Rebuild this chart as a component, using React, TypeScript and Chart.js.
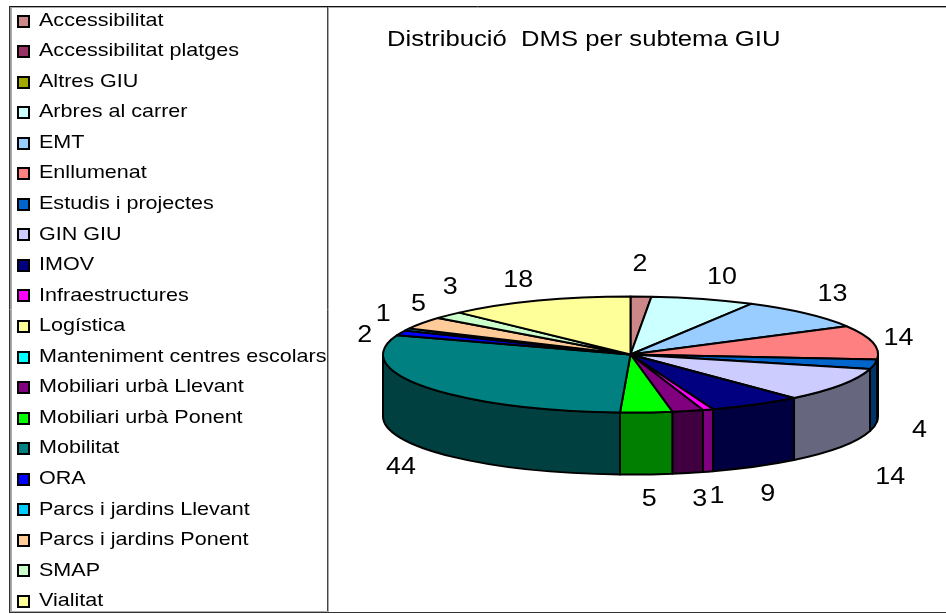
import React, { useEffect, useRef } from "react";
import { Chart, registerables } from "chart.js";

Chart.register(...registerables);

const TITLE = "Distribució  DMS per subtema GIU";
const categories = [
  "Accessibilitat", "Accessibilitat platges", "Altres GIU", "Arbres al carrer", "EMT",
  "Enllumenat", "Estudis i projectes", "GIN GIU", "IMOV", "Infraestructures",
  "Logística", "Manteniment centres escolars", "Mobiliari urbà Llevant", "Mobiliari urbà Ponent", "Mobilitat",
  "ORA", "Parcs i jardins Llevant", "Parcs i jardins Ponent", "SMAP", "Vialitat",
];
const values = [2, 0, 0, 10, 13, 14, 4, 14, 9, 1, 0, 0, 3, 5, 44, 2, 1, 5, 3, 18];
const sliceColors = [
  "#CC8888", "#993366", "#A3A800", "#CCFFFF", "#99CCFF",
  "#FF8080", "#0066CC", "#CCCCFF", "#000080", "#FF00FF",
  "#FFFF99", "#00FFFF", "#800080", "#00FF00", "#008080",
  "#0000FF", "#00CCFF", "#FFCC99", "#CCFFCC", "#FFFF99",
];
// Offset of each value label from the rim point at its slice's mid-angle.
const labelNudges: [number, number][] = [
  [-1, -32.5], [0, 0], [0, 0], [19, -21.5], [27, -19.5],
  [26, -3.5], [45, 66], [49, 92.5], [12, 90], [9, 86.5],
  [0, 0], [0, 0], [12, 88], [3, 86.5], [-24.5, 80.5],
  [-36, 3], [-24, -15], [-4, -19], [2, -28], [-20, -20],
];

const FONT = '"Liberation Sans", Arial, sans-serif';
const RY = 58;
const DEPTH = 62;

function halve(hex: string) {
  const n = parseInt(hex.slice(1), 16);
  const c = (s: number) => Math.floor(((n >> s) & 255) / 2);
  return `rgb(${c(16)},${c(8)},${c(0)})`;
}

// The reference's text is wider than the font's natural proportions.
function stretchedText(
  ctx: CanvasRenderingContext2D,
  text: string,
  x: number,
  y: number,
  sx: number,
) {
  ctx.save();
  ctx.translate(x, y);
  ctx.scale(sx, 1);
  ctx.fillText(text, 0, 0);
  ctx.restore();
}

const pie3d = {
  id: "pie3d",
  beforeDatasetsDraw(chart: any) {
    const ctx: CanvasRenderingContext2D = chart.ctx;
    const arcs = chart.getDatasetMeta(0).data;
    ctx.save();
    ctx.lineWidth = 2;
    ctx.strokeStyle = "#000";
    ctx.lineJoin = "round";
    // side wall: only the part of each slice's rim facing the viewer
    arcs.forEach((a: any, i: number) => {
      if (!values[i]) return;
      const s = Math.max(a.startAngle, 0);
      const e = Math.min(a.endAngle, Math.PI);
      if (e <= s) return;
      ctx.beginPath();
      ctx.ellipse(a.x, a.y, a.outerRadius, RY, 0, s, e);
      ctx.ellipse(a.x, a.y + DEPTH, a.outerRadius, RY, 0, e, s, true);
      ctx.closePath();
      ctx.fillStyle = halve(sliceColors[i]);
      ctx.fill();
      ctx.stroke();
    });
    // top face
    arcs.forEach((a: any, i: number) => {
      if (!values[i]) return;
      ctx.beginPath();
      ctx.moveTo(a.x, a.y);
      ctx.ellipse(a.x, a.y, a.outerRadius, RY, 0, a.startAngle, a.endAngle);
      ctx.closePath();
      ctx.fillStyle = sliceColors[i];
      ctx.fill();
      ctx.stroke();
    });
    ctx.restore();
    // value labels
    ctx.save();
    ctx.fillStyle = "#000";
    ctx.font = `24px ${FONT}`;
    ctx.textAlign = "center";
    ctx.textBaseline = "middle";
    arcs.forEach((a: any, i: number) => {
      if (!values[i]) return;
      const mid = (a.startAngle + a.endAngle) / 2;
      const [dx, dy] = labelNudges[i];
      stretchedText(
        ctx,
        String(values[i]),
        a.x + a.outerRadius * Math.cos(mid) + dx,
        a.y + RY * Math.sin(mid) + dy,
        1.12,
      );
    });
    ctx.restore();
    return false;
  },
  afterDraw(chart: any) {
    const ctx: CanvasRenderingContext2D = chart.ctx;
    ctx.save();
    // frame
    const line = (x1: number, y1: number, x2: number, y2: number, c: string) => {
      ctx.beginPath();
      ctx.moveTo(x1, y1);
      ctx.lineTo(x2, y2);
      ctx.strokeStyle = c;
      ctx.lineWidth = 1;
      ctx.stroke();
    };
    line(9, 6.5, 946, 6.5, "#111");
    line(10, 7.5, 946, 7.5, "#aaa");
    line(9.5, 6, 9.5, 613, "#333");
    line(10.5, 7, 10.5, 612, "#999");
    line(11.5, 7, 11.5, 612, "#aaa");
    line(327.5, 7, 327.5, 612, "#444");
    line(328.5, 7, 328.5, 612, "#aaa");
    line(10, 611.5, 328, 611.5, "#aaa");
    line(10, 612.5, 946, 612.5, "#333");
    // title
    ctx.fillStyle = "#000";
    ctx.textBaseline = "alphabetic";
    ctx.textAlign = "left";
    ctx.font = `22px ${FONT}`;
    stretchedText(ctx, TITLE, 387, 46, 1.166);
    // legend
    ctx.font = `19px ${FONT}`;
    categories.forEach((name, i) => {
      const cy = 20.5 + i * 30.55;
      const top = Math.round(cy) - 5;
      ctx.fillStyle = sliceColors[i];
      ctx.fillRect(18, top, 11, 11);
      ctx.strokeStyle = "#000";
      ctx.lineWidth = 2;
      ctx.strokeRect(18, top, 11, 11);
      ctx.fillStyle = "#000";
      ctx.textBaseline = "middle";
      stretchedText(ctx, name, 39, cy, 1.134);
    });
    ctx.restore();
  },
};

export default function App() {
  const ref = useRef<HTMLCanvasElement>(null);
  useEffect(() => {
    document.body.style.margin = "0";
    document.body.style.background = "#fff";
    const chart = new Chart(ref.current!, {
      type: "pie",
      data: {
        labels: categories,
        datasets: [{ data: values, backgroundColor: sliceColors, borderWidth: 0 }],
      },
      options: {
        responsive: false,
        animation: false,
        layout: { padding: { left: 383, right: 68, top: 107, bottom: 12 } },
        plugins: { legend: { display: false }, title: { display: false }, tooltip: { enabled: false } },
      },
      plugins: [pie3d as any],
    });
    return () => chart.destroy();
  }, []);
  return <canvas ref={ref} width={946} height={614} style={{ display: "block" }} />;
}
